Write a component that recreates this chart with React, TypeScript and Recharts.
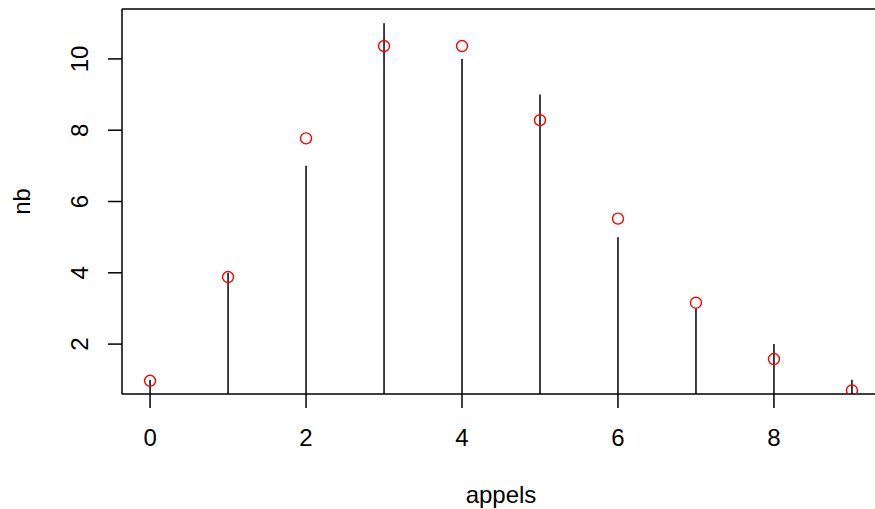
import React from 'react';
import { ComposedChart, Bar, Scatter, XAxis, YAxis, ReferenceLine } from 'recharts';

// nombre d'appels observés vs. valeurs théoriques (Poisson)
const appels = [0, 1, 2, 3, 4, 5, 6, 7, 8, 9];
const nb = [1, 4, 7, 11, 10, 9, 5, 3, 2, 1];
const theo = [0.97, 3.88, 7.77, 10.36, 10.36, 8.28, 5.52, 3.16, 1.58, 0.7];
const xTicks = [0, 2, 4, 6, 8];
const yTicks = [2, 4, 6, 8, 10];
const xDomain = [-0.36, 9.36];
const yDomain = [0.6, 11.4];

const FONT = '"Liberation Sans", Arial, Helvetica, sans-serif';

const data = appels.map((a, i) => ({ appels: a, nb: nb[i], theo: theo[i] }));

const Stem = (props: any) => {
  const { x, y, width, height } = props;
  const cx = x + width / 2;
  return <line x1={cx} x2={cx} y1={y} y2={y + height} stroke="#000" strokeWidth={1.5} />;
};

const Ring = (props: any) => (
  <circle cx={props.cx} cy={props.cy} r={5.5} fill="none" stroke="#ff0000" strokeWidth={1.4} />
);

const YTick = ({ x, y, payload }: any) => (
  <text x={x} y={y} transform={`rotate(-90, ${x}, ${y})`} textAnchor="middle"
    fontSize={24} fontFamily={FONT} fill="#000">{payload.value}</text>
);

const XTick = ({ x, y, payload }: any) => (
  <text x={x} y={y + 36} textAnchor="middle" fontSize={24} fontFamily={FONT} fill="#000">
    {payload.value}
  </text>
);

export default function App() {
  return (
    <div style={{ position: 'absolute', left: 0, top: 0, width: 875, height: 509, overflow: 'hidden', background: '#fff' }}>
      <ComposedChart width={880} height={509} data={data} margin={{ top: 9, right: 0, bottom: 0, left: 0 }}>
        <XAxis dataKey="appels" type="number" domain={xDomain} ticks={xTicks} allowDataOverflow
          height={115} tickSize={14} tickMargin={2}
          axisLine={{ stroke: '#000', strokeWidth: 1.5 }} tickLine={{ stroke: '#000', strokeWidth: 1.5 }}
          tick={<XTick />}
          label={({ viewBox }: any) => (
            <text x={viewBox.x + viewBox.width / 2} y={503} textAnchor="middle"
              fontSize={24} fontFamily={FONT} fill="#000">appels</text>
          )} />
        <YAxis type="number" domain={yDomain} ticks={yTicks} allowDataOverflow
          width={122} tickSize={14} tickMargin={20}
          axisLine={{ stroke: '#000', strokeWidth: 1.5 }} tickLine={{ stroke: '#000', strokeWidth: 1.5 }}
          tick={<YTick />}
          label={({ viewBox }: any) => {
            const cy = viewBox.y + viewBox.height / 2;
            return (
              <text x={30} y={cy} transform={`rotate(-90, 30, ${cy})`} textAnchor="middle"
                fontSize={24} fontFamily={FONT} fill="#000">nb</text>
            );
          }} />
        {/* cadre du haut */}
        <ReferenceLine y={yDomain[1]} stroke="#000" strokeWidth={1.5} ifOverflow="visible" />
        <Bar dataKey="nb" barSize={4} shape={<Stem />} isAnimationActive={false} />
        <Scatter dataKey="theo" shape={<Ring />} isAnimationActive={false} />
      </ComposedChart>
    </div>
  );
}
